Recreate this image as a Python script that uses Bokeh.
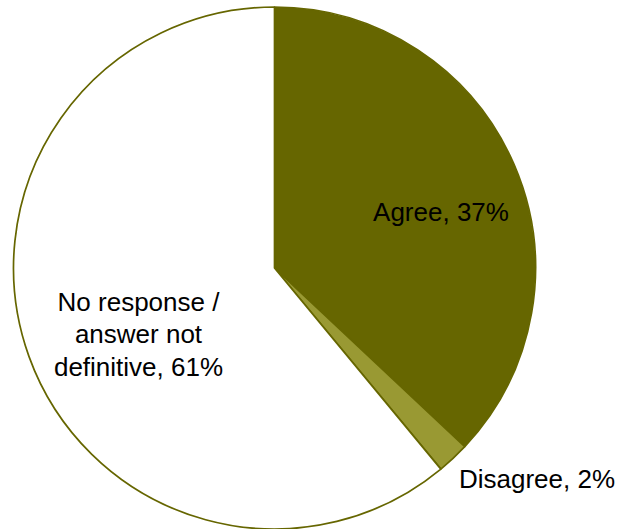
import math
from bokeh.plotting import figure
from bokeh.models import Range1d, ColumnDataSource
from bokeh.core.properties import value
from bokeh.embed import file_html
from bokeh.resources import INLINE

# data
categories = ["Agree", "Disagree", "No response /\nanswer not\ndefinitive"]
percents = [37, 2, 61]
colors = ["#666600", "#999933", "#ffffff"]

# layout (page pixels, y measured from bottom of figure)
W, H = 620, 529
cx, cy, r = 274, 261.5, 261
label_pos = [(440.5, 318, "alphabetic"), (536.5, 51, "alphabetic"), (138, 195, "middle")]

total = sum(percents)
starts, ends = [], []
acc = 0.0
for v in percents:
    starts.append(math.pi / 2 - 2 * math.pi * acc / total)
    acc += v
    ends.append(math.pi / 2 - 2 * math.pi * acc / total)

p = figure(width=W, height=H, output_backend="svg", toolbar_location=None,
           x_range=Range1d(0, W), y_range=Range1d(0, H),
           min_border=0, outline_line_color=None)
p.axis.visible = False
p.grid.visible = False
p.background_fill_color = "white"
p.border_fill_color = "white"

src = ColumnDataSource(dict(x=[cx] * 3, y=[cy] * 3, start=starts, end=ends, color=colors))
p.wedge(x="x", y="y", radius=r, radius_units="screen", start_angle="start", end_angle="end",
        direction="clock", fill_color="color", line_color="#666600", line_width=1.7, source=src)

for cat, pct, (lx, ly, bl) in zip(categories, percents, label_pos):
    p.text(x=[lx], y=[ly], text=[f"{cat}, {pct}%"], text_align="center", text_baseline=bl,
           text_font=value("Liberation Sans"), text_font_size="26px", text_color="black",
           text_line_height=1.07)

open("out.html", "w").write(file_html(p, INLINE))
